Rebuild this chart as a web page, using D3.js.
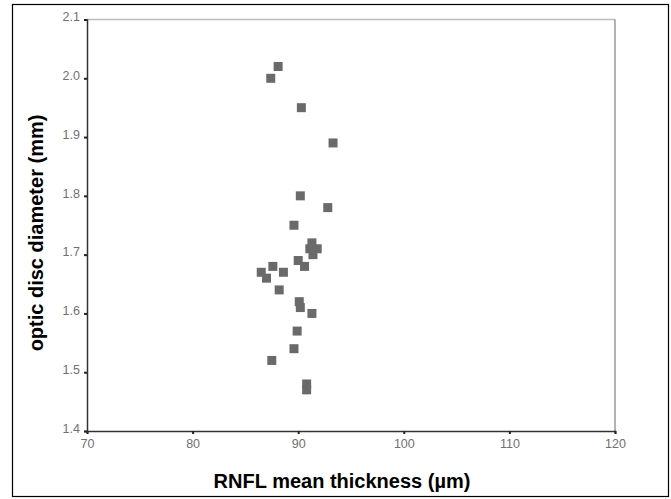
<!DOCTYPE html>
<html>
<head>
<meta charset="utf-8">
<script src="https://cdn.jsdelivr.net/npm/d3@7"></script>
<style>
  body { margin: 0; background: #fff; }
  .tick text { font-family: "Liberation Sans", Arial, sans-serif; font-size: 12.5px; fill: #707070; }
  .title { font-family: "Liberation Sans", Arial, sans-serif; font-weight: bold; font-size: 20px; fill: #000; }
</style>
</head>
<body>
<div id="vis"></div>
<script>
// data
var thickness = [88.1, 87.4, 90.3, 93.3, 90.2, 92.8, 89.6, 91.3, 91.1, 91.8, 91.4, 90.0, 90.6,
                 87.6, 86.5, 88.6, 87.0, 88.2, 90.1, 90.2, 91.3, 89.9, 89.6, 87.5, 90.8, 90.8];
var diameter  = [2.02, 2.00, 1.95, 1.89, 1.80, 1.78, 1.75, 1.72, 1.71, 1.71, 1.70, 1.69, 1.68,
                 1.68, 1.67, 1.67, 1.66, 1.64, 1.62, 1.61, 1.60, 1.57, 1.54, 1.52, 1.48, 1.47];
var xTicks = [70, 80, 90, 100, 110, 120];
var yTicks = [1.4, 1.5, 1.6, 1.7, 1.8, 1.9, 2.0, 2.1];

var W = 671, H = 499;
var margin = {top: 19.5, right: 56, bottom: 68, left: 87},
    width = W - margin.left - margin.right,
    height = H - margin.top - margin.bottom;

var svg = d3.select("#vis")
            .append("svg")
            .attr("width", W)
            .attr("height", H);

// outer frame
svg.append("rect")
   .attr("x", 12.5).attr("y", 4.5)
   .attr("width", 656).attr("height", 492)
   .attr("fill", "none")
   .attr("stroke", "#000")
   .attr("stroke-width", 1.2);

var x = d3.scaleLinear().domain([70, 120]).range([0, width]);
var y = d3.scaleLinear().domain([1.4, 2.1]).range([height, 0]);

var plot = svg.append("g")
              .attr("transform", "translate(" + margin.left + "," + margin.top + ")");

// light top/right frame lines
plot.append("line")
    .attr("x1", 0).attr("x2", width).attr("y1", 0).attr("y2", 0)
    .attr("stroke", "#bbb").attr("stroke-width", 1.5);
plot.append("line")
    .attr("x1", width).attr("x2", width).attr("y1", 0).attr("y2", height)
    .attr("stroke", "#999").attr("stroke-width", 1.5);

var xAxis = plot.append("g")
    .attr("transform", "translate(0," + height + ")")
    .call(d3.axisBottom(x).tickValues(xTicks).tickSize(3).tickPadding(5).tickFormat(d3.format("d")));

var yAxis = plot.append("g")
    .call(d3.axisLeft(y).tickValues(yTicks).tickSize(3).tickPadding(4).tickFormat(d3.format(".1f")));

plot.selectAll(".domain").attr("stroke", "#333").attr("stroke-width", 1.5);
plot.selectAll(".tick line").attr("stroke", "#222").attr("stroke-width", 2);
yAxis.selectAll(".tick text").attr("dy", "0.1em");

// points
var pts = d3.range(thickness.length).map(function(i) {
  return {x: thickness[i], y: diameter[i]};
});

plot.selectAll(".pt")
    .data(pts)
    .enter()
    .append("rect")
    .attr("class", "pt")
    .attr("x", function(d) { return x(d.x) - 4.5; })
    .attr("y", function(d) { return y(d.y) - 4.5; })
    .attr("width", 9)
    .attr("height", 9)
    .attr("fill", "#6a6a6a");

// titles
svg.append("text")
   .attr("class", "title")
   .attr("x", 342)
   .attr("y", 488)
   .attr("text-anchor", "middle")
   .text("RNFL mean thickness (µm)");

svg.append("text")
   .attr("class", "title")
   .attr("transform", "translate(43,233) rotate(-90)")
   .attr("text-anchor", "middle")
   .text("optic disc diameter (mm)");
</script>
</body>
</html>
